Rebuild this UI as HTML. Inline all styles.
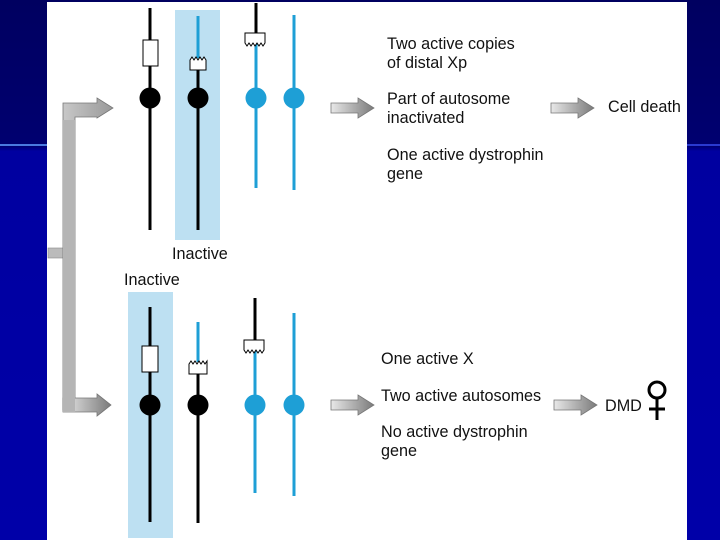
<!DOCTYPE html>
<html><head><style>
html,body{margin:0;padding:0;width:720px;height:540px;overflow:hidden;}
body{background:linear-gradient(to bottom,#000060 0%,#000070 27%,#0000a0 28%,#0000a8 100%);position:relative;font-family:"Liberation Sans",sans-serif;}
.t{position:absolute;font-size:16.2px;color:#111;line-height:18.5px;white-space:nowrap;}
</style></head><body>
<div style="position:absolute;left:0;top:144px;width:48px;height:2px;background:#4a7ae0"></div>
<div style="position:absolute;left:687px;top:144px;width:33px;height:2px;background:#2a3ad0"></div>
<div style="position:absolute;left:47px;top:2px;width:640px;height:538px;background:#fff"></div>
<svg width="720" height="540" style="position:absolute;left:0;top:0">
<defs>
<linearGradient id="g" x1="0" x2="1" y1="0" y2="0"><stop offset="0" stop-color="#e8e8e8"/><stop offset="1" stop-color="#7a7a7a"/></linearGradient>
<linearGradient id="gv" x1="0" x2="1"><stop offset="0" stop-color="#c8c8c8"/><stop offset="1" stop-color="#999"/></linearGradient>
</defs>
<rect x="175" y="10" width="45" height="230" fill="#bde0f2"/>
<rect x="128" y="292" width="45" height="246" fill="#bde0f2"/>
<rect x="48" y="248" width="16" height="10" fill="#bbb" stroke="#888" stroke-width="0.6"/>
<path d="M63,410 V103 H97 V98 L113,108 L97,118 V117 H75 V410 Z" fill="url(#gv)" stroke="#777" stroke-width="0.8"/>
<path d="M63,398 H97 V394 L111,405 L97,416 V412 H63 Z" fill="url(#g)" stroke="#777" stroke-width="0.8"/>
<path d="M63,120 V412 H75 V120 Z" fill="#b5b5b5"/>
<g stroke="#777" stroke-width="0.8" fill="url(#g)">
<path d="M331,103 H358 V98 L374,108 L358,118 V113 H331 Z"/>
<path d="M551,103 H578 V98 L594,108 L578,118 V113 H551 Z"/>
<path d="M331,400 H358 V395 L374,405 L358,415 V410 H331 Z"/>
<path d="M554,400 H581 V395 L597,405 L581,415 V410 H554 Z"/>
</g>
<g stroke-width="3" fill="none">
<line x1="150" y1="8" x2="150" y2="230" stroke="#000"/>
<line x1="198" y1="16" x2="198" y2="58" stroke="#1e9fd6"/>
<line x1="198" y1="70" x2="198" y2="230" stroke="#000"/>
<line x1="256" y1="3" x2="256" y2="36" stroke="#000"/>
<line x1="256" y1="44" x2="256" y2="188" stroke="#1e9fd6"/>
<line x1="294" y1="15" x2="294" y2="190" stroke="#1e9fd6"/>
</g>
<rect x="143" y="40" width="15" height="26" fill="#fff" stroke="#000" stroke-width="1"/>
<path d="M190,70 V60 l2,-3 2,3 2,-3 2,3 2,-3 2,3 2,-3 2,3 V70 Z" fill="#fff" stroke="#000" stroke-width="1"/>
<path d="M247,33 H265 V43 l-2,3 -2,-3 -2,3 -2,-3 -2,3 -2,-3 -2,3 -2,-3 -2,3 -2,-3 V33 Z" fill="#fff" stroke="#000" stroke-width="1"/>
<circle cx="150" cy="98" r="10.5" fill="#000"/>
<circle cx="198" cy="98" r="10.5" fill="#000"/>
<circle cx="256" cy="98" r="10.5" fill="#1e9fd6"/>
<circle cx="294" cy="98" r="10.5" fill="#1e9fd6"/>
<g stroke-width="3" fill="none">
<line x1="150" y1="307" x2="150" y2="522" stroke="#000"/>
<line x1="198" y1="322" x2="198" y2="362" stroke="#1e9fd6"/>
<line x1="198" y1="374" x2="198" y2="523" stroke="#000"/>
<line x1="255" y1="298" x2="255" y2="341" stroke="#000"/>
<line x1="255" y1="350" x2="255" y2="493" stroke="#1e9fd6"/>
<line x1="294" y1="313" x2="294" y2="496" stroke="#1e9fd6"/>
</g>
<rect x="142" y="346" width="16" height="26" fill="#fff" stroke="#000" stroke-width="1"/>
<path d="M189,374 V364 l2,-3 2,3 2,-3 2,3 2,-3 2,3 2,-3 2,3 2,-3 V374 Z" fill="#fff" stroke="#000" stroke-width="1"/>
<path d="M246,340 H264 V350 l-2,3 -2,-3 -2,3 -2,-3 -2,3 -2,-3 -2,3 -2,-3 -2,3 -2,-3 V340 Z" fill="#fff" stroke="#000" stroke-width="1"/>
<circle cx="150" cy="405" r="10.5" fill="#000"/>
<circle cx="198" cy="405" r="10.5" fill="#000"/>
<circle cx="255" cy="405" r="10.5" fill="#1e9fd6"/>
<circle cx="294" cy="405" r="10.5" fill="#1e9fd6"/>
<circle cx="657" cy="390" r="8" fill="none" stroke="#000" stroke-width="3"/>
<line x1="657" y1="398" x2="657" y2="420" stroke="#000" stroke-width="3"/>
<line x1="649" y1="409" x2="665" y2="409" stroke="#000" stroke-width="3"/>
</svg>
<div class="t" style="left:172px;top:245px">Inactive</div>
<div class="t" style="left:124px;top:271px">Inactive</div>
<div class="t" style="left:387px;top:35px">Two active copies<br>of distal Xp</div>
<div class="t" style="left:387px;top:90px">Part of autosome<br>inactivated</div>
<div class="t" style="left:387px;top:146px">One active dystrophin<br>gene</div>
<div class="t" style="left:608px;top:98px">Cell death</div>
<div class="t" style="left:381px;top:350px">One active X</div>
<div class="t" style="left:381px;top:387px">Two active autosomes</div>
<div class="t" style="left:381px;top:423px">No active dystrophin<br>gene</div>
<div class="t" style="left:605px;top:397px">DMD</div>
</body></html>
